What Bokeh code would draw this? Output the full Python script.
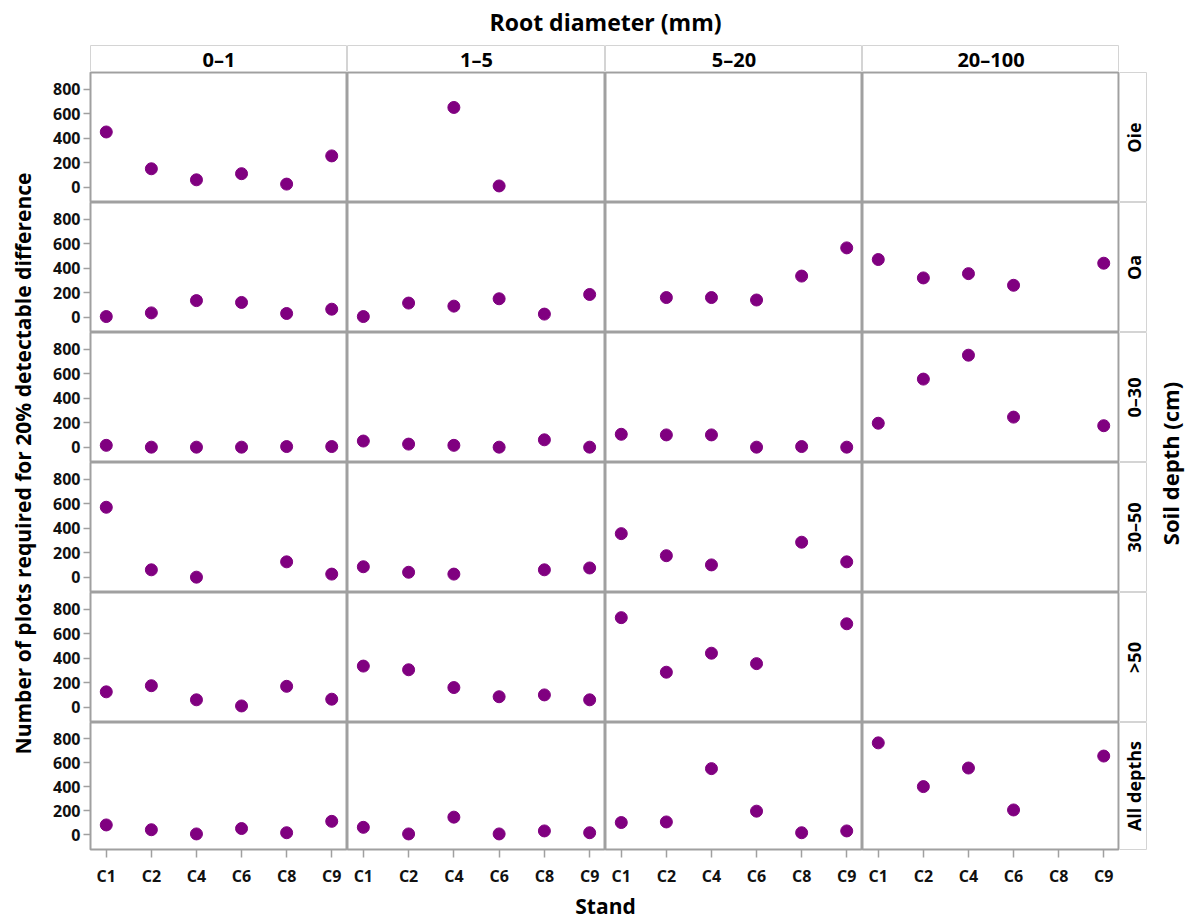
import math
from bokeh.plotting import figure
from bokeh.layouts import row, column
from bokeh.models import Range1d, FixedTicker, Label, ColumnDataSource, Spacer
from bokeh.embed import file_html
from bokeh.resources import INLINE

# ---------------- data ----------------
stands = ["C1", "C2", "C4", "C6", "C8", "C9"]
diameters = ["0–1", "1–5", "5–20", "20–100"]
depths = ["Oie", "Oa", "0–30", "30–50", ">50", "All depths"]

N = None
# each list: values per stand for diameters 0–1, 1–5, 5–20, 20–100
vals_oie = [
    [450, 150, 60, 110, 25, 255],
    [N, N, 650, 10, N, N],
    [N, N, N, N, N, N],
    [N, N, N, N, N, N],
]
vals_oa = [
    [5, 35, 135, 120, 30, 65],
    [5, 115, 90, 150, 25, 185],
    [N, 160, 160, 140, 335, 565],
    [470, 320, 355, 260, N, 440],
]
vals_0_30 = [
    [15, 0, 0, 0, 5, 5],
    [50, 25, 15, 0, 60, 0],
    [105, 100, 100, 0, 5, 0],
    [195, 555, 750, 245, N, 175],
]
vals_30_50 = [
    [570, 60, 0, N, 125, 25],
    [85, 40, 25, N, 60, 75],
    [355, 175, 100, N, 285, 125],
    [N, N, N, N, N, N],
]
vals_gt50 = [
    [125, 175, 60, 10, 170, 65],
    [335, 305, 160, 85, 100, 60],
    [730, 285, 440, 355, N, 680],
    [N, N, N, N, N, N],
]
vals_all = [
    [80, 40, 5, 50, 15, 110],
    [60, 5, 145, 5, 30, 15],
    [100, 105, 550, 195, 15, 30],
    [765, 400, 555, 205, N, 655],
]
all_rows = [vals_oie, vals_oa, vals_0_30, vals_30_50, vals_gt50, vals_all]
y_ticks = [0, 200, 400, 600, 800]

# ---------------- style ----------------
FONT = "Open Sans"
DOT = "#800080"
PANEL_LINE = "#a0a0a0"
STRIP_LINE = "#d4d4d4"
col_w = [257, 258, 257, 257]
ROW_H = 130
LEFT_AX = 50
BOT_AX = 37
STRIP_W = 28


def blank(w, h, xr=(0, 1), yr=(0, 1), outline=None):
    p = figure(width=w, height=h, x_range=Range1d(*xr), y_range=Range1d(*yr),
               toolbar_location=None, output_backend="svg",
               x_axis_location=None, y_axis_location=None,
               min_border_left=0, min_border_right=0,
               min_border_top=0, min_border_bottom=0)
    p.xgrid.visible = False
    p.ygrid.visible = False
    p.outline_line_color = outline
    p.background_fill_color = "white"
    p.border_fill_color = "white"
    return p


def style_axis(ax, standoff, tick_out):
    ax.axis_line_color = None
    ax.major_tick_line_color = PANEL_LINE
    ax.major_tick_line_width = 1.5
    ax.major_tick_out = tick_out
    ax.major_tick_in = 0
    ax.minor_tick_line_color = None
    ax.major_label_standoff = standoff
    ax.major_label_text_font = FONT
    ax.major_label_text_font_size = "16px"
    ax.major_label_text_font_style = "bold"
    ax.major_label_text_color = "#111111"


def panel(r, c):
    left = LEFT_AX if c == 0 else 0
    bottom = BOT_AX if r == len(depths) - 1 else 0
    p = figure(width=col_w[c] + left, height=ROW_H + bottom,
               x_range=Range1d(-0.35, 5.35), y_range=Range1d(-125, 935),
               toolbar_location=None, output_backend="svg",
               x_axis_location="below" if bottom else None,
               y_axis_location="left" if left else None,
               min_border_left=left, min_border_right=0,
               min_border_top=0, min_border_bottom=bottom)
    p.xgrid.visible = False
    p.ygrid.visible = False
    p.outline_line_color = PANEL_LINE
    p.outline_line_width = 2
    vals = all_rows[r][c]
    xs = [i for i, v in enumerate(vals) if v is not None]
    ys = [v for v in vals if v is not None]
    src = ColumnDataSource(dict(x=xs, y=ys))
    p.scatter("x", "y", source=src, size=12, fill_color=DOT, line_color=DOT)
    if left:
        ax = p.yaxis[0]
        ax.ticker = FixedTicker(ticks=y_ticks)
        style_axis(ax, 3, 7)
    if bottom:
        ax = p.xaxis[0]
        ax.ticker = FixedTicker(ticks=list(range(len(stands))))
        ax.major_label_overrides = {i: s for i, s in enumerate(stands)}
        style_axis(ax, 7, 8)
    return p


def text_label(p, x, y, txt, size, angle=0.0):
    p.add_layout(Label(x=x, y=y, text=txt, text_font=FONT, text_font_size=size,
                       text_font_style="bold", text_color="black",
                       text_align="center", text_baseline="middle", angle=angle))


# top title
title_fig = blank(1188, 45, xr=(0, 1188), yr=(45, 0))
text_label(title_fig, 605, 21, "Root diameter (mm)", "23px")

# column strips
strips = []
for c, d in enumerate(diameters):
    s = blank(col_w[c], 27, outline=STRIP_LINE)
    text_label(s, 0.5, 0.48, d, "20px")
    strips.append(s)
header = row([Spacer(width=90, height=27)] + strips + [Spacer(width=1188 - 1119, height=27)])

# panel rows
rows = []
for r, dep in enumerate(depths):
    figs = [panel(r, c) for c in range(len(diameters))]
    bottom = BOT_AX if r == len(depths) - 1 else 0
    s = figure(width=STRIP_W, height=ROW_H + bottom, x_range=Range1d(0, 1), y_range=Range1d(0, 1),
               toolbar_location=None, output_backend="svg",
               x_axis_location=None, y_axis_location=None,
               min_border_left=0, min_border_right=0, min_border_top=0, min_border_bottom=bottom)
    s.xgrid.visible = False
    s.ygrid.visible = False
    s.outline_line_color = STRIP_LINE
    text_label(s, 0.52, 0.5, dep, "18px", angle=math.pi / 2)
    rows.append(row(figs + [s]))

block_h = ROW_H * len(depths) + BOT_AX
left_fig = blank(40, block_h, xr=(0, 40), yr=(block_h, 0))
text_label(left_fig, 22, 391, "Number of plots required for 20% detectable difference", "21px", angle=math.pi / 2)
right_fig = blank(1188 - 1147, block_h, xr=(0, 41), yr=(block_h, 0))
text_label(right_fig, 22, 391, "Soil depth (cm)", "22px", angle=math.pi / 2)

middle = row([left_fig, column(rows), right_fig])

stand_h = 921 - 72 - block_h
stand_fig = blank(1188, stand_h, xr=(0, 1188), yr=(stand_h, 0))
text_label(stand_fig, 605, 16, "Stand", "21px")

layout = column([title_fig, header, middle, stand_fig])

open("out.html", "w").write(file_html(layout, INLINE))
